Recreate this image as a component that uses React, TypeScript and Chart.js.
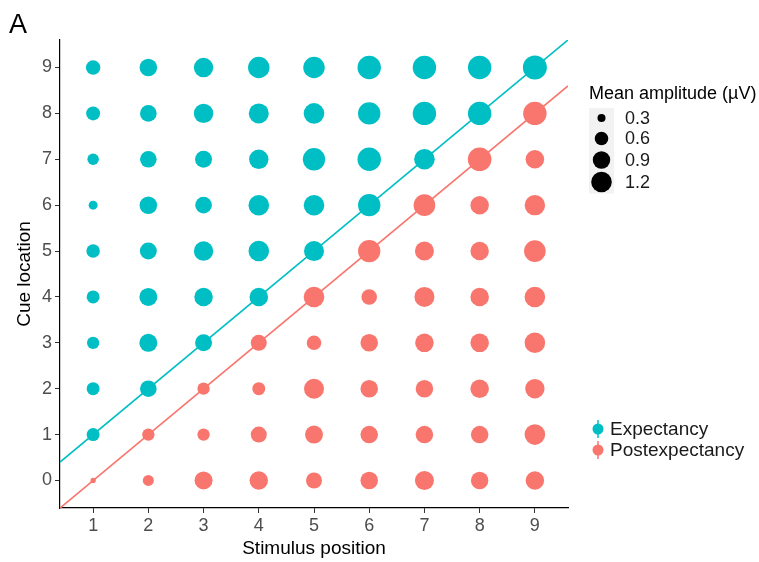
import { useEffect, useRef } from "react";
import { Chart, registerables } from "chart.js";

Chart.register(...registerables);

// Axis categories
const stimulusPositions = [1, 2, 3, 4, 5, 6, 7, 8, 9];
const cueLocations = [0, 1, 2, 3, 4, 5, 6, 7, 8, 9];

// Mean amplitude (µV) for each cue location, one value per stimulus position 1..9
const ampCue0 = [0.21, 0.44, 0.95, 0.99, 0.78, 0.91, 1.04, 0.9, 0.99];
const ampCue1 = [0.56, 0.52, 0.52, 0.78, 0.95, 0.91, 0.91, 0.91, 1.2];
const ampCue2 = [0.56, 0.83, 0.52, 0.56, 1.14, 0.91, 0.91, 1.0, 1.08];
const ampCue3 = [0.52, 0.95, 0.86, 0.78, 0.67, 0.91, 1.0, 1.0, 1.2];
const ampCue4 = [0.56, 0.95, 1.0, 1.0, 1.2, 0.75, 1.14, 1.0, 1.2];
const ampCue5 = [0.6, 0.86, 1.08, 1.2, 1.14, 1.39, 1.04, 0.99, 1.31];
const ampCue6 = [0.34, 0.91, 0.83, 1.2, 1.2, 1.39, 1.31, 0.99, 1.18];
const ampCue7 = [0.47, 0.83, 0.86, 1.08, 1.39, 1.51, 1.2, 1.53, 1.0];
const ampCue8 = [0.63, 0.83, 1.08, 1.14, 1.2, 1.39, 1.51, 1.51, 1.51];
const ampCue9 = [0.66, 0.91, 1.08, 1.29, 1.29, 1.51, 1.51, 1.51, 1.58];
const amplitudeRows = [ampCue0, ampCue1, ampCue2, ampCue3, ampCue4, ampCue5, ampCue6, ampCue7, ampCue8, ampCue9];

// Size legend breaks (µV)
const sizeBreaks = [0.3, 0.6, 0.9, 1.2];

const groupNames = ["Expectancy", "Postexpectancy"];
const TEAL = "#00BFC4";
const SALMON = "#F8766D";
const FONT = '"Liberation Sans", Arial, sans-serif';

// Axis limits
const X_MIN = 0.4;
const X_MAX = 9.6;
const Y_MIN = -0.6;
const Y_MAX = 9.6;

// Area-proportional point radius in pixels
function radiusFor(amplitude: number): number {
  return Math.sqrt(Math.max(1, 16 + 100 * (amplitude - 0.3)));
}

type Pt = { x: number; y: number; r: number };

function buildPoints(): { expectancy: Pt[]; post: Pt[] } {
  const expectancy: Pt[] = [];
  const post: Pt[] = [];
  cueLocations.forEach((cue, ri) => {
    stimulusPositions.forEach((stim, ci) => {
      const v = amplitudeRows[ri][ci];
      const p = { x: stim, y: cue, r: radiusFor(v) };
      if (cue >= stim) expectancy.push(p);
      else post.push(p);
    });
  });
  return { expectancy, post };
}

const legendPlugin = {
  id: "sideLegends",
  afterDraw(chart: any) {
    const ctx: CanvasRenderingContext2D = chart.ctx;
    ctx.save();

    // Panel tag
    ctx.fillStyle = "#000";
    ctx.textAlign = "left";
    ctx.textBaseline = "alphabetic";
    ctx.font = `27px ${FONT}`;
    ctx.fillText("A", 9, 33);

    // Size legend
    ctx.font = `18px ${FONT}`;
    ctx.fillStyle = "#000";
    ctx.fillText("Mean amplitude (µV)", 589, 99);

    const rowCenters = [118, 138.5, 160, 182];
    const rowHeights = [20, 21, 22, 23];
    const keyLeft = 589;
    const keyWidth = 25;
    sizeBreaks.forEach((b, i) => {
      const cy = rowCenters[i];
      const h = rowHeights[i];
      ctx.fillStyle = "#F2F2F2";
      ctx.fillRect(keyLeft, cy - h / 2, keyWidth, h);
      ctx.fillStyle = "#000";
      ctx.beginPath();
      ctx.arc(keyLeft + keyWidth / 2, cy, radiusFor(b), 0, Math.PI * 2);
      ctx.fill();
      ctx.font = `18px ${FONT}`;
      ctx.textBaseline = "middle";
      ctx.fillStyle = "#1A1A1A";
      ctx.fillText(b.toFixed(1), 625, cy + 1);
    });

    // Colour legend
    const colours = [TEAL, SALMON];
    const centers = [429, 450];
    groupNames.forEach((name, i) => {
      const cy = centers[i];
      const cx = 598;
      ctx.strokeStyle = colours[i];
      ctx.lineWidth = 1.5;
      ctx.beginPath();
      ctx.moveTo(cx, cy - 9);
      ctx.lineTo(cx, cy + 9);
      ctx.stroke();
      ctx.fillStyle = colours[i];
      ctx.beginPath();
      ctx.arc(cx, cy, 5.5, 0, Math.PI * 2);
      ctx.fill();
      ctx.fillStyle = "#1A1A1A";
      ctx.font = `19px ${FONT}`;
      ctx.textBaseline = "middle";
      ctx.fillText(name, 610, cy + 1);
    });

    ctx.restore();
  },
};

export default function App() {
  const canvasRef = useRef<HTMLCanvasElement | null>(null);

  useEffect(() => {
    const canvas = canvasRef.current;
    if (!canvas) return;
    const { expectancy, post } = buildPoints();

    const chart = new Chart(canvas, {
      type: "bubble",
      data: {
        datasets: [
          {
            label: groupNames[0],
            data: expectancy,
            backgroundColor: TEAL,
            borderWidth: 0,
            hoverBorderWidth: 0,
            order: 1,
          } as any,
          {
            label: groupNames[1],
            data: post,
            backgroundColor: SALMON,
            borderWidth: 0,
            hoverBorderWidth: 0,
            order: 1,
          } as any,
          {
            type: "line",
            label: "identity",
            data: [
              { x: X_MIN, y: X_MIN },
              { x: X_MAX, y: X_MAX },
            ],
            borderColor: TEAL,
            borderWidth: 1.7,
            pointRadius: 0,
            fill: false,
            order: 2,
          } as any,
          {
            type: "line",
            label: "offset",
            data: [
              { x: X_MIN, y: X_MIN - 1 },
              { x: X_MAX, y: X_MAX - 1 },
            ],
            borderColor: SALMON,
            borderWidth: 1.7,
            pointRadius: 0,
            fill: false,
            order: 2,
          } as any,
        ],
      },
      options: {
        responsive: false,
        animation: false,
        devicePixelRatio: 1,
        layout: { padding: { top: 40, right: 191, bottom: 0, left: 0 } },
        plugins: {
          legend: { display: false },
          tooltip: { enabled: false },
        },
        scales: {
          x: {
            type: "linear",
            min: X_MIN,
            max: X_MAX,
            afterBuildTicks: (s: any) => {
              s.ticks = stimulusPositions.map((v) => ({ value: v }));
            },
            afterFit: (s: any) => {
              s.height = 54;
            },
            ticks: {
              color: "#4D4D4D",
              font: { size: 18, family: FONT },
              padding: 2,
              autoSkip: false,
              maxRotation: 0,
            },
            grid: {
              display: true,
              drawOnChartArea: false,
              drawTicks: true,
              tickLength: 5,
              color: "#333333",
              lineWidth: 1,
            },
            border: { display: true, color: "#000000", width: 1.2 },
            title: {
              display: true,
              text: "Stimulus position",
              color: "#000",
              font: { size: 19, family: FONT },
              padding: { top: 0, bottom: 2 },
            },
          },
          y: {
            type: "linear",
            min: Y_MIN,
            max: Y_MAX,
            afterBuildTicks: (s: any) => {
              s.ticks = cueLocations.map((v) => ({ value: v }));
            },
            afterFit: (s: any) => {
              s.width = 60;
            },
            ticks: {
              color: "#4D4D4D",
              font: { size: 18, family: FONT },
              padding: 3,
              autoSkip: false,
            },
            grid: {
              display: true,
              drawOnChartArea: false,
              drawTicks: true,
              tickLength: 5,
              color: "#333333",
              lineWidth: 1,
            },
            border: { display: true, color: "#000000", width: 1.2 },
            title: {
              display: true,
              text: "Cue location",
              color: "#000",
              font: { size: 19, family: FONT },
              padding: { top: 13, bottom: 0 },
            },
          },
        },
      },
      plugins: [legendPlugin],
    });

    return () => chart.destroy();
  }, []);

  return (
    <div
      style={{
        position: "fixed",
        left: 0,
        top: 0,
        width: 759,
        height: 562,
        background: "#ffffff",
      }}
    >
      <canvas ref={canvasRef} width={759} height={562} style={{ display: "block" }} />
    </div>
  );
}
